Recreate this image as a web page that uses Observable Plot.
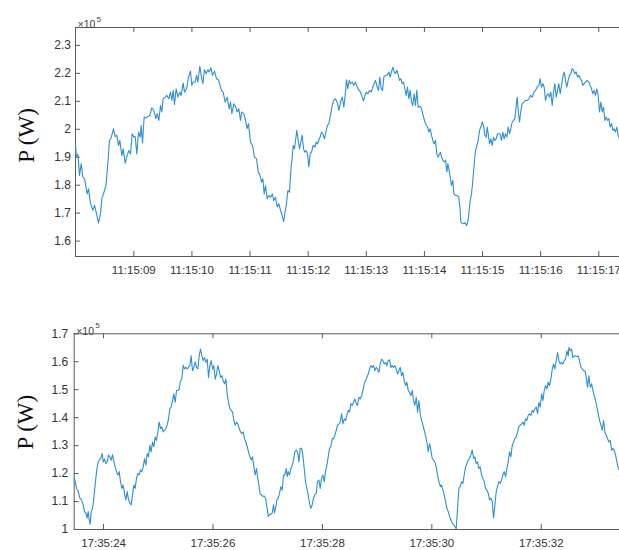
<!DOCTYPE html>
<html><head><meta charset="utf-8">
<script src="https://cdn.jsdelivr.net/npm/d3@7"></script>
<script src="https://cdn.jsdelivr.net/npm/@observablehq/plot@0.6"></script>
<style>
html,body{margin:0;padding:0;background:#fff;}
#chart{width:619px;height:550px;position:relative;overflow:hidden;background:#fff;}
#chart svg{display:block;}
</style></head><body><div id="chart"></div>
<script>
// Top panel: seconds after 11:15:00, power in units of 1e5 W
const topSamples = [
[8.000,1.942],[8.009,1.900],[8.037,1.912],[8.066,1.835],[8.095,1.877],[8.123,1.829],[8.152,1.823],[8.198,1.769],[8.221,1.787],[8.255,1.734],[8.295,1.710],[8.324,1.728],[8.353,1.704],[8.393,1.664],[8.427,1.698],[8.450,1.751],[8.496,1.781],[8.525,1.805],[8.553,1.877],[8.582,1.960],[8.611,1.970],[8.651,2.002],[8.680,1.974],[8.708,1.978],[8.737,1.942],[8.760,1.960],[8.794,1.906],[8.817,1.930],[8.852,1.879],[8.886,1.906],[8.915,1.924],[8.943,1.912],[8.972,1.984],[9.001,1.972],[9.024,1.974],[9.052,1.912],[9.081,1.990],[9.110,1.972],[9.127,2.014],[9.150,1.951],[9.178,2.044],[9.207,2.040],[9.241,2.046],[9.276,2.050],[9.310,2.077],[9.345,2.067],[9.379,2.038],[9.402,2.056],[9.431,2.032],[9.459,2.085],[9.482,2.062],[9.505,2.109],[9.540,2.115],[9.568,2.121],[9.603,2.109],[9.631,2.133],[9.654,2.103],[9.677,2.139],[9.700,2.089],[9.729,2.145],[9.758,2.115],[9.792,2.133],[9.815,2.121],[9.849,2.165],[9.872,2.133],[9.907,2.145],[9.941,2.187],[9.975,2.208],[9.998,2.157],[10.021,2.169],[10.056,2.169],[10.079,2.193],[10.102,2.169],[10.136,2.225],[10.159,2.193],[10.188,2.163],[10.216,2.213],[10.245,2.199],[10.274,2.213],[10.297,2.205],[10.325,2.220],[10.354,2.193],[10.388,2.208],[10.423,2.181],[10.457,2.177],[10.491,2.151],[10.514,2.137],[10.537,2.133],[10.572,2.097],[10.606,2.115],[10.641,2.073],[10.664,2.097],[10.687,2.056],[10.721,2.091],[10.755,2.079],[10.778,2.062],[10.807,2.073],[10.836,2.032],[10.858,2.062],[10.893,2.056],[10.922,2.032],[10.950,2.002],[10.973,2.020],[11.008,1.954],[11.042,1.942],[11.076,1.900],[11.111,1.895],[11.145,1.843],[11.162,1.841],
[11.180,1.829],[11.197,1.811],[11.220,1.823],[11.243,1.769],[11.266,1.799],[11.295,1.751],[11.323,1.763],[11.358,1.757],[11.381,1.769],[11.409,1.745],[11.438,1.757],[11.467,1.722],[11.495,1.734],[11.524,1.710],[11.553,1.692],[11.576,1.670],[11.599,1.698],[11.627,1.734],[11.650,1.781],[11.679,1.775],[11.702,1.853],[11.725,1.900],[11.742,1.942],[11.765,1.930],[11.782,1.960],[11.805,1.996],[11.828,1.960],[11.851,1.930],[11.868,1.948],[11.897,1.978],[11.920,1.930],[11.943,1.918],[11.966,1.924],[11.989,1.912],[12.011,1.865],[12.034,1.912],[12.057,1.918],[12.086,1.942],[12.115,1.936],[12.138,1.954],[12.161,1.948],[12.183,1.963],[12.206,1.972],[12.229,1.990],[12.252,1.984],[12.281,1.966],[12.310,1.996],[12.333,2.014],[12.355,2.020],[12.384,2.050],[12.413,2.085],[12.441,2.103],[12.470,2.109],[12.499,2.097],[12.528,2.067],[12.556,2.097],[12.585,2.115],[12.614,2.079],[12.642,2.133],[12.659,2.177],[12.682,2.145],[12.705,2.175],[12.728,2.163],[12.757,2.169],[12.786,2.157],[12.814,2.169],[12.843,2.151],[12.872,2.141],[12.900,2.133],[12.929,2.115],[12.952,2.101],[12.975,2.121],[12.998,2.133],[13.026,2.127],[13.055,2.139],[13.084,2.133],[13.112,2.151],[13.135,2.163],[13.158,2.175],[13.187,2.151],[13.210,2.139],[13.233,2.187],[13.256,2.145],[13.279,2.139],[13.302,2.187],[13.330,2.193],[13.359,2.193],[13.388,2.205],[13.411,2.187],[13.433,2.205],[13.456,2.222],[13.479,2.205],[13.502,2.199],[13.525,2.211],[13.548,2.196],[13.571,2.175],[13.594,2.181],[13.617,2.163],[13.640,2.169],[13.663,2.145],[13.686,2.121],[13.709,2.151],[13.732,2.109],[13.755,2.139],[13.778,2.097],[13.800,2.085],[13.823,2.127],[13.846,2.085],[13.869,2.139],[13.892,2.079],[13.927,2.082],[13.950,2.073],[13.984,2.044],[14.018,2.020],[14.053,2.008],[14.076,1.990],[14.099,2.002],[14.122,1.978],[14.145,1.960],[14.167,1.948],[14.190,1.960],[14.213,1.912],[14.236,1.900],[14.259,1.912],[14.276,1.918],
[14.294,1.900],[14.317,1.889],[14.340,1.883],[14.363,1.889],[14.386,1.847],[14.403,1.877],[14.420,1.859],[14.443,1.829],[14.466,1.799],[14.489,1.817],[14.506,1.769],[14.535,1.763],[14.564,1.763],[14.592,1.757],[14.610,1.722],[14.627,1.668],[14.650,1.664],[14.678,1.662],[14.701,1.666],[14.724,1.656],[14.747,1.668],[14.770,1.710],[14.787,1.745],[14.810,1.769],[14.833,1.817],[14.856,1.877],[14.879,1.924],[14.902,1.942],[14.925,1.960],[14.948,1.996],[14.971,2.008],[14.994,2.026],[15.017,2.014],[15.040,1.978],[15.063,1.972],[15.080,2.008],[15.097,1.984],[15.120,1.948],[15.143,1.966],[15.166,1.942],[15.189,1.972],[15.212,1.960],[15.235,1.966],[15.258,1.984],[15.280,1.984],[15.303,1.984],[15.326,1.960],[15.349,1.990],[15.372,1.966],[15.395,1.984],[15.418,1.972],[15.441,2.008],[15.464,1.984],[15.487,2.002],[15.510,2.026],[15.533,2.032],[15.556,2.038],[15.579,2.085],[15.596,2.115],[15.613,2.067],[15.636,2.026],[15.659,2.067],[15.682,2.091],[15.711,2.097],[15.739,2.103],[15.768,2.103],[15.797,2.109],[15.825,2.121],[15.854,2.115],[15.883,2.133],[15.911,2.139],[15.940,2.151],[15.969,2.157],[15.991,2.181],[16.014,2.151],[16.037,2.163],[16.060,2.151],[16.083,2.103],[16.106,2.121],[16.129,2.127],[16.152,2.115],[16.175,2.133],[16.198,2.085],[16.221,2.133],[16.244,2.163],[16.267,2.115],[16.290,2.139],[16.313,2.163],[16.336,2.127],[16.358,2.157],[16.381,2.187],[16.404,2.205],[16.427,2.175],[16.450,2.151],[16.473,2.175],[16.496,2.193],[16.519,2.199],[16.542,2.217],[16.565,2.211],[16.588,2.199],[16.611,2.205],[16.634,2.187],[16.657,2.193],[16.680,2.181],[16.703,2.175],[16.725,2.157],[16.748,2.163],[16.771,2.169],[16.800,2.175],[16.829,2.169],[16.852,2.157],[16.874,2.145],[16.897,2.127],[16.920,2.139],[16.943,2.121],[16.966,2.145],[16.989,2.121],[17.012,2.062],[17.035,2.097],[17.058,2.062],[17.081,2.079],[17.104,2.032],[17.127,2.044],[17.150,2.032],[17.173,2.038],[17.196,2.008],[17.219,2.020],[17.242,1.996],[17.264,2.002],[17.287,1.990],[17.310,2.008],[17.333,1.978],[17.356,1.966]
];

// Bottom panel: seconds after 17:35:00, power in units of 1e5 W
const bottomSamples = [
[23.465,1.185],[23.482,1.171],[23.506,1.147],[23.537,1.136],[23.567,1.112],[23.598,1.106],[23.628,1.088],[23.652,1.064],[23.677,1.059],[23.701,1.041],[23.719,1.064],[23.738,1.035],[23.756,1.019],[23.774,1.064],[23.799,1.076],[23.823,1.112],[23.847,1.159],[23.872,1.207],[23.896,1.236],[23.920,1.248],[23.951,1.256],[23.975,1.272],[23.994,1.242],[24.018,1.252],[24.042,1.236],[24.067,1.242],[24.091,1.266],[24.115,1.260],[24.140,1.248],[24.164,1.268],[24.189,1.242],[24.213,1.224],[24.237,1.207],[24.262,1.195],[24.286,1.207],[24.310,1.171],[24.335,1.147],[24.359,1.159],[24.383,1.130],[24.408,1.106],[24.432,1.136],[24.457,1.106],[24.481,1.094],[24.505,1.088],[24.530,1.124],[24.554,1.159],[24.578,1.147],[24.603,1.183],[24.627,1.201],[24.652,1.195],[24.676,1.213],[24.700,1.207],[24.725,1.224],[24.749,1.254],[24.773,1.230],[24.798,1.272],[24.822,1.260],[24.847,1.301],[24.871,1.278],[24.895,1.313],[24.920,1.296],[24.944,1.331],[24.968,1.319],[24.993,1.349],[25.017,1.384],[25.042,1.361],[25.066,1.367],[25.090,1.349],[25.115,1.355],[25.139,1.361],[25.163,1.373],[25.188,1.396],[25.212,1.432],[25.236,1.438],[25.261,1.461],[25.285,1.485],[25.310,1.455],[25.334,1.497],[25.358,1.497],[25.383,1.503],[25.407,1.532],[25.431,1.538],[25.456,1.588],[25.480,1.574],[25.505,1.580],[25.529,1.574],[25.553,1.580],[25.578,1.586],[25.602,1.621],[25.626,1.568],[25.651,1.580],[25.675,1.600],[25.700,1.580],[25.724,1.574],[25.748,1.621],[25.773,1.645],[25.797,1.621],[25.821,1.604],[25.846,1.615],[25.870,1.598],[25.895,1.609],[25.919,1.544],[25.943,1.586],[25.968,1.604],[25.992,1.574],[26.016,1.586],[26.041,1.538],[26.065,1.556],[26.090,1.586],[26.114,1.568],[26.138,1.544],[26.163,1.550],[26.187,1.532],[26.211,1.521],[26.236,1.538],[26.260,1.485],[26.285,1.455],[26.309,1.432],[26.333,1.426],[26.358,1.420],[26.382,1.390],[26.406,1.373],[26.431,1.384],[26.455,1.378],[26.480,1.361],[26.504,1.349],[26.528,1.343],[26.553,1.349],[26.577,1.325],[26.601,1.313],[26.626,1.296],[26.650,1.278],[26.675,1.260],[26.699,1.248],[26.723,1.260],[26.748,1.224],[26.772,1.195],[26.796,1.218],[26.815,1.189],
[26.839,1.159],[26.863,1.126],[26.888,1.124],[26.912,1.118],[26.936,1.120],[26.961,1.112],[26.985,1.082],[27.010,1.047],[27.034,1.053],[27.058,1.055],[27.083,1.059],[27.107,1.088],[27.125,1.059],[27.144,1.076],[27.168,1.106],[27.192,1.112],[27.217,1.130],[27.241,1.153],[27.265,1.141],[27.290,1.195],[27.314,1.195],[27.339,1.218],[27.357,1.189],[27.375,1.207],[27.399,1.195],[27.424,1.218],[27.448,1.230],[27.473,1.248],[27.497,1.278],[27.521,1.284],[27.546,1.278],[27.570,1.242],[27.594,1.290],[27.619,1.290],[27.643,1.266],[27.668,1.218],[27.692,1.171],[27.716,1.147],[27.741,1.124],[27.765,1.094],[27.789,1.076],[27.814,1.088],[27.838,1.112],[27.863,1.124],[27.887,1.130],[27.911,1.171],[27.936,1.177],[27.960,1.147],[27.984,1.183],[28.009,1.195],[28.033,1.171],[28.058,1.207],[28.082,1.230],[28.106,1.260],[28.131,1.290],[28.155,1.296],[28.179,1.325],[28.204,1.325],[28.228,1.337],[28.253,1.355],[28.277,1.373],[28.301,1.378],[28.326,1.384],[28.350,1.414],[28.374,1.378],[28.399,1.396],[28.423,1.390],[28.447,1.408],[28.472,1.426],[28.496,1.420],[28.521,1.450],[28.545,1.444],[28.569,1.455],[28.594,1.467],[28.618,1.450],[28.642,1.444],[28.667,1.473],[28.691,1.467],[28.716,1.479],[28.740,1.497],[28.764,1.521],[28.789,1.532],[28.813,1.544],[28.837,1.556],[28.862,1.574],[28.886,1.586],[28.911,1.580],[28.935,1.586],[28.959,1.568],[28.984,1.580],[29.008,1.574],[29.032,1.562],[29.057,1.592],[29.081,1.609],[29.106,1.604],[29.130,1.592],[29.154,1.598],[29.179,1.586],[29.203,1.604],[29.227,1.607],[29.252,1.580],[29.276,1.586],[29.300,1.580],[29.325,1.586],[29.349,1.574],[29.374,1.556],[29.398,1.568],[29.422,1.580],[29.447,1.550],[29.471,1.562],[29.495,1.532],[29.520,1.515],[29.544,1.527],[29.569,1.497],[29.593,1.491],[29.617,1.479],[29.642,1.497],[29.666,1.461],[29.690,1.444],[29.715,1.473],[29.739,1.420],[29.764,1.461],[29.788,1.414],[29.812,1.390],[29.837,1.373],[29.861,1.355],[29.885,1.337],[29.910,1.313],[29.934,1.278],[29.959,1.307],[29.983,1.284],[30.007,1.254],[30.032,1.248],[30.056,1.242],[30.080,1.224],[30.105,1.195],[30.129,1.171],[30.160,1.153],
[30.178,1.159],[30.202,1.141],[30.226,1.124],[30.251,1.100],[30.275,1.076],[30.300,1.064],[30.324,1.047],[30.348,1.035],[30.373,1.023],[30.397,1.017],[30.421,1.011],[30.446,1.003],[30.470,1.076],[30.495,1.147],[30.519,1.153],[30.543,1.171],[30.568,1.165],[30.592,1.195],[30.616,1.224],[30.641,1.236],[30.665,1.248],[30.689,1.254],[30.714,1.266],[30.738,1.284],[30.763,1.254],[30.787,1.260],[30.811,1.236],[30.836,1.242],[30.860,1.218],[30.884,1.224],[30.909,1.195],[30.933,1.183],[30.958,1.171],[30.982,1.147],[31.006,1.141],[31.031,1.130],[31.055,1.106],[31.079,1.112],[31.104,1.100],[31.128,1.041],[31.153,1.088],[31.177,1.136],[31.201,1.153],[31.226,1.171],[31.250,1.165],[31.274,1.177],[31.299,1.195],[31.323,1.207],[31.348,1.189],[31.372,1.218],[31.396,1.242],[31.421,1.278],[31.445,1.260],[31.469,1.301],[31.494,1.313],[31.518,1.325],[31.542,1.331],[31.567,1.349],[31.591,1.367],[31.616,1.373],[31.640,1.378],[31.664,1.384],[31.689,1.373],[31.713,1.396],[31.737,1.390],[31.762,1.408],[31.786,1.414],[31.811,1.408],[31.835,1.426],[31.859,1.420],[31.884,1.432],[31.908,1.438],[31.932,1.414],[31.957,1.455],[31.981,1.438],[32.006,1.485],[32.030,1.461],[32.054,1.497],[32.079,1.515],[32.103,1.503],[32.127,1.527],[32.152,1.515],[32.176,1.538],[32.201,1.574],[32.225,1.592],[32.249,1.574],[32.274,1.604],[32.298,1.633],[32.322,1.604],[32.347,1.592],[32.371,1.598],[32.396,1.592],[32.420,1.604],[32.444,1.609],[32.469,1.639],[32.493,1.621],[32.505,1.651],[32.530,1.639],[32.554,1.645],[32.578,1.615],[32.603,1.621],[32.627,1.621],[32.651,1.619],[32.676,1.621],[32.700,1.604],[32.725,1.580],[32.749,1.574],[32.773,1.568],[32.798,1.568],[32.822,1.544],[32.846,1.509],[32.871,1.550],[32.895,1.509],[32.920,1.521],[32.944,1.497],[32.968,1.479],[32.993,1.461],[33.017,1.438],[33.041,1.414],[33.066,1.390],[33.090,1.373],[33.115,1.355],[33.139,1.390],[33.163,1.349],[33.188,1.337],[33.212,1.325],[33.236,1.313],[33.261,1.319],[33.285,1.284],[33.310,1.290],[33.334,1.284],[33.358,1.266],[33.383,1.242],[33.407,1.218],[33.431,1.213]
];

const topXTicks = [9, 10, 11, 12, 13, 14, 15, 16, 17];
const topXTickLabels = ["11:15:09","11:15:10","11:15:11","11:15:12","11:15:13","11:15:14","11:15:15","11:15:16","11:15:17"];
const topYTicks = [1.6, 1.7, 1.8, 1.9, 2.0, 2.1, 2.2, 2.3];
const topYTickLabels = ["1.6","1.7","1.8","1.9","2","2.1","2.2","2.3"];
const bottomXTicks = [24, 26, 28, 30, 32];
const bottomXTickLabels = ["17:35:24","17:35:26","17:35:28","17:35:30","17:35:32"];
const bottomYTicks = [1.0, 1.1, 1.2, 1.3, 1.4, 1.5, 1.6, 1.7];
const bottomYTickLabels = ["1","1.1","1.2","1.3","1.4","1.5","1.6","1.7"];
const topXDomain = [7.997, 17.356];
const topYDomain = [1.545, 2.364];
const bottomXDomain = [23.464, 33.43];
const bottomYDomain = [1.0, 1.7];
const yAxisLabel = "P (W)";
const exponentBase = "×10";
const exponentPower = "5";

function panel(o) {
  const width = 619, marginRight = 0;
  const fw = width - o.marginLeft - marginRight;
  const fh = o.height - o.marginTop - o.marginBottom;
  const xl = new Map(o.xTicks.map((d, i) => [d, o.xLabels[i]]));
  const yl = new Map(o.yTicks.map((d, i) => [d, o.yLabels[i]]));
  const axisColor = "#5a5a5a";
  const textColor = "#333333";
  return Plot.plot({
    width, height: o.height,
    marginTop: o.marginTop, marginBottom: o.marginBottom,
    marginLeft: o.marginLeft, marginRight,
    style: {fontFamily: "'Liberation Sans', Arial, Helvetica, sans-serif", fontSize: "11.5px", color: textColor, background: "#fff", overflow: "visible"},
    x: {type: "linear", domain: o.xDomain},
    y: {type: "linear", domain: o.yDomain},
    marks: [
      Plot.axisX({ticks: o.xTicks, tickSize: 0, tickPadding: 9, tickFormat: d => xl.get(d) ?? "", label: null}),
      Plot.axisY({ticks: o.yTicks, tickSize: 0, tickPadding: o.yPad, tickFormat: d => yl.get(d) ?? "", label: null, fontSize: 12}),
      Plot.ruleY([o.yDomain[0]], {stroke: axisColor}),
      Plot.ruleY([o.yDomain[1]], {stroke: axisColor}),
      Plot.ruleX([o.xDomain[0]], {stroke: axisColor}),
      Plot.tickX(o.xTicks, {x: d => d, insetTop: fh - 5, stroke: axisColor}),
      Plot.tickX(o.xTicks, {x: d => d, insetBottom: fh - 5, stroke: axisColor}),
      Plot.tickY(o.yTicks, {y: d => d, insetRight: fw - 5, stroke: axisColor}),
      Plot.line(o.samples, {x: d => d[0], y: d => d[1], stroke: "#2d8fd5", strokeWidth: 1.1}),
      Plot.text([yAxisLabel], {frameAnchor: "left", text: d => d, rotate: -90, dx: -48.5, dy: o.labelDy,
        fontFamily: "'Liberation Serif', 'Times New Roman', serif", fontSize: 23, fill: "#111", textAnchor: "middle"}),
      Plot.text([exponentBase], {frameAnchor: "top-left", text: d => d, dx: 2, dy: -6.5, textAnchor: "start", fontSize: 10.5, fill: "#444"}),
      Plot.text([exponentPower], {frameAnchor: "top-left", text: d => d, dx: 21, dy: -11, textAnchor: "start", fontSize: 8, fill: "#444"})
    ]
  });
}

const chart = document.getElementById("chart");
chart.append(panel({
  samples: topSamples, xDomain: topXDomain, yDomain: topYDomain,
  xTicks: topXTicks, xLabels: topXTickLabels, yTicks: topYTicks, yLabels: topYTickLabels,
  height: 285, marginTop: 27, marginBottom: 29, marginLeft: 75, yPad: 4.5, labelDy: -6.5
}));
chart.append(panel({
  samples: bottomSamples, xDomain: bottomXDomain, yDomain: bottomYDomain,
  xTicks: bottomXTicks, xLabels: bottomXTickLabels, yTicks: bottomYTicks, yLabels: bottomYTickLabels,
  height: 265, marginTop: 48.3, marginBottom: 21, marginLeft: 73.7, yPad: 6, labelDy: -9.5
}));
</script></body></html>
